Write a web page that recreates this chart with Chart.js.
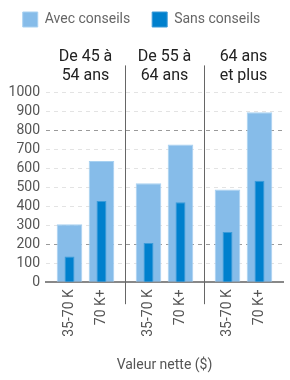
<!DOCTYPE html>
<html>
<head>
<meta charset="utf-8">
<script src="https://cdn.jsdelivr.net/npm/chart.js@4/dist/chart.umd.min.js"></script>
<style>
  html, body { margin: 0; padding: 0; background: #fff; }
  #cadre { width: 290px; height: 380px; }
</style>
</head>
<body>
<div id="cadre"><canvas id="graphique"></canvas></div>
<script>
'use strict';
/*-------------------------------------------------------*\
     Données
\*-------------------------------------------------------*/
var groupes = [['De 45 à', '54 ans'], ['De 55 à', '64 ans'], ['64 ans', 'et plus']];
var tranches = ['35-70 K', '70 K+'];
// Avec conseils, par tranche de valeur nette
var avec3570 = [305, 521, 489];
var avec70 = [639, 726, 896];
// Sans conseils
var sans3570 = [135, 207, 265];
var sans70 = [428, 421, 534];

var couleurAvec = '#86bce9';
var couleurSans = '#0080cd';
var police = 'Roboto, "Noto Sans", sans-serif';

/*-------------------------------------------------------*\
     Plugins : espace sous la légende, séparateurs, étiquettes
\*-------------------------------------------------------*/
var espaceLegende = {
  id: 'espaceLegende',
  beforeInit: function(chart) {
    var fitOrigine = chart.legend.fit;
    chart.legend.fit = function() {
      fitOrigine.apply(this, arguments);
      this.height += 3;
    };
  }
};

var separateurs = {
  id: 'separateurs',
  afterDraw: function(chart) {
    var ctx = chart.ctx;
    var zone = chart.chartArea;
    var echelle = chart.scales.x;
    ctx.save();
    ctx.strokeStyle = '#666';
    ctx.lineWidth = 1;
    for (var i = 0; i < groupes.length - 1; i++) {
      var xSep = Math.round((echelle.getPixelForTick(i) + echelle.getPixelForTick(i + 1)) / 2) + 0.5;
      ctx.beginPath();
      ctx.moveTo(xSep, zone.top - 27);
      ctx.lineTo(xSep, zone.bottom + 22);
      ctx.stroke();
    }
    // étiquettes verticales sous chaque barre
    ctx.font = '14px ' + police;
    ctx.fillStyle = '#555';
    ctx.textAlign = 'right';
    ctx.textBaseline = 'middle';
    [0, 1].forEach(function(d) {
      chart.getDatasetMeta(d).data.forEach(function(barre) {
        ctx.save();
        ctx.translate(barre.x, zone.bottom + 7);
        ctx.rotate(-Math.PI / 2);
        ctx.fillText(tranches[d], 0, 0);
        ctx.restore();
      });
    });
    ctx.restore();
  }
};

/*-------------------------------------------------------*\
     Création du graphique
\*-------------------------------------------------------*/
var barreAvec = {
  backgroundColor: couleurAvec,
  borderColor: '#a8d1f1',
  borderWidth: 1,
  categoryPercentage: 0.81,
  barPercentage: 0.8,
  order: 2
};
var barreSans = {
  backgroundColor: couleurSans,
  borderColor: '#3b9bd9',
  borderWidth: 1,
  categoryPercentage: 0.81,
  barPercentage: 0.31,
  order: 1
};

new Chart(document.getElementById('graphique'), {
  type: 'bar',
  data: {
    labels: groupes,
    datasets: [
      Object.assign({ label: 'Avec conseils', data: avec3570, stack: 'a' }, barreAvec),
      Object.assign({ label: 'Avec conseils', data: avec70, stack: 'b' }, barreAvec),
      Object.assign({ label: 'Sans conseils', data: sans3570, stack: 'a' }, barreSans),
      Object.assign({ label: 'Sans conseils', data: sans70, stack: 'b' }, barreSans)
    ]
  },
  options: {
    responsive: true,
    maintainAspectRatio: false,
    animation: false,
    layout: { padding: { top: -10, left: 0, right: 7, bottom: 0 } },
    plugins: {
      tooltip: { enabled: false },
      legend: {
        position: 'top',
        labels: {
          boxWidth: 15,
          boxHeight: 15,
          padding: 22,
          color: '#666',
          font: { family: police, size: 14 },
          filter: function(item) { return item.datasetIndex === 0 || item.datasetIndex === 2; },
          sort: function(a, b) { return a.datasetIndex - b.datasetIndex; }
        }
      }
    },
    scales: {
      x: {
        type: 'category',
        position: 'bottom',
        offset: true,
        grid: { display: false, drawTicks: false },
        border: { display: true, color: '#888', width: 2 },
        ticks: { display: false },
        title: {
          display: true,
          text: 'Valeur nette ($)',
          color: '#555',
          font: { family: police, size: 14 },
          padding: { top: 75, bottom: 6 }
        }
      },
      xHaut: {
        type: 'category',
        position: 'top',
        offset: true,
        grid: { display: false, drawTicks: false },
        border: { display: false },
        ticks: {
          color: '#222',
          padding: 7,
          maxRotation: 0,
          font: { family: police, size: 16 }
        }
      },
      y: {
        min: 0,
        max: 1000,
        stacked: false,
        afterFit: function(echelle) { echelle.width = 46; },
        ticks: {
          stepSize: 100,
          autoSkip: false,
          color: '#555',
          padding: 6,
          font: { family: police, size: 14 },
          callback: function(valeur) { return String(valeur); }
        },
        border: { display: false, dash: [4, 4] },
        grid: {
          drawTicks: false,
          color: function(c) {
            var v = c.tick.value;
            if (v === 0) return 'rgba(0,0,0,0)';
            return (v === 200 || v === 800) ? '#9a9a9a' : '#e3e3e3';
          }
        }
      }
    }
  },
  plugins: [espaceLegende, separateurs]
});
</script>
</body>
</html>
